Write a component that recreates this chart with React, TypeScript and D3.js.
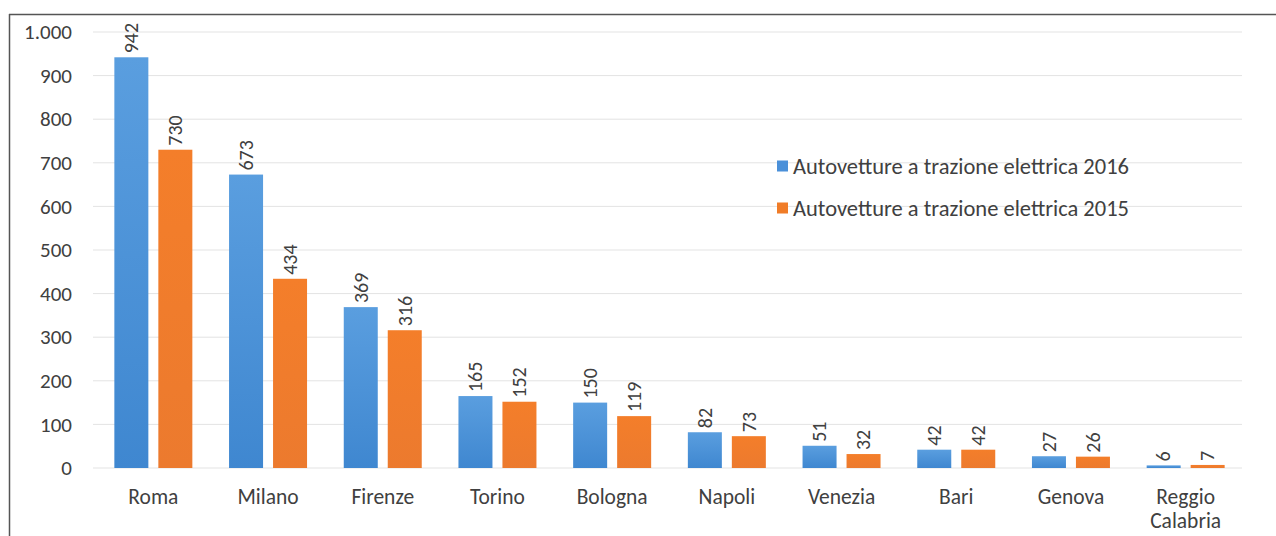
import React from "react";
import * as d3 from "d3";

const categories = ["Roma", "Milano", "Firenze", "Torino", "Bologna", "Napoli", "Venezia", "Bari", "Genova", "Reggio Calabria"];
const values2016 = [942, 673, 369, 165, 150, 82, 51, 42, 27, 6];
const values2015 = [730, 434, 316, 152, 119, 73, 32, 42, 26, 7];
const seriesNames = ["Autovetture a trazione elettrica 2016", "Autovetture a trazione elettrica 2015"];
const yTicks = [0, 100, 200, 300, 400, 500, 600, 700, 800, 900, 1000];

const W = 1276, H = 536;
const FONT = "Carlito, Lato, 'Liberation Sans', sans-serif";

export default function App() {
  const x = d3.scaleBand<string>().domain(categories).range([96, 1243]).paddingInner(0.32).paddingOuter(0.16);
  const y = d3.scaleLinear().domain([0, 1000]).range([468, 32]);
  const sub = d3.scaleBand<number>().domain([0, 1]).range([0, x.bandwidth()]).paddingInner(0.227);
  const fmt = (v: number) => (v >= 1000 ? d3.format(",")(v).replace(",", ".") : String(v));
  const colors = ["url(#gBlue)", "url(#gOrange)"];
  const series = [values2016, values2015];

  return (
    <svg width={W} height={H} style={{ position: "absolute", left: 0, top: 0, background: "#fff" }}>
      <defs>
        <linearGradient id="gBlue" x1="0" y1="0" x2="0" y2="1">
          <stop offset="0" stopColor="#5A9EDF" />
          <stop offset="1" stopColor="#3F87D0" />
        </linearGradient>
        <linearGradient id="gOrange" x1="0" y1="0" x2="0" y2="1">
          <stop offset="0" stopColor="#F47E2A" />
          <stop offset="1" stopColor="#EC7A2E" />
        </linearGradient>
      </defs>
      <rect x={0} y={0} width={W} height={H} fill="#fff" />
      <line x1={9.5} y1={14} x2={9.5} y2={H} stroke="#555" strokeWidth={1.5} />
      <line x1={9} y1={14.5} x2={W} y2={14.5} stroke="#555" strokeWidth={1.5} />
      {yTicks.map((t) => (
        <g key={t}>
          <line x1={93} x2={1242} y1={y(t)} y2={y(t)} stroke="#e3e3e3" strokeWidth={1} />
          <text x={72} y={y(t)} dy="0.34em" textAnchor="end" fontSize={21} fill="#404040" fontFamily={FONT}>{fmt(t)}</text>
        </g>
      ))}
      {categories.map((c, i) => (
        <g key={c}>
          {series.map((s, k) => {
            const bx = (x(c) as number) + (sub(k) as number);
            const bw = sub.bandwidth();
            const v = s[i];
            return (
              <g key={k}>
                <rect x={bx} y={y(v)} width={bw} height={Math.max(1.5, y(0) - y(v))} fill={colors[k]} />
                <text
                  transform={`translate(${bx + bw / 2},${y(v) - 4}) rotate(-90)`}
                  dy="0.34em"
                  textAnchor="start"
                  fontSize={20}
                  fill="#404040"
                  fontFamily={FONT}
                >{v}</text>
              </g>
            );
          })}
          {c.split(" ").map((part, j) => (
            <text key={j} x={(x(c) as number) + x.bandwidth() / 2} y={504 + j * 24} textAnchor="middle" fontSize={21.5} fill="#404040" fontFamily={FONT}>{part}</text>
          ))}
        </g>
      ))}
      {seriesNames.map((n, k) => (
        <g key={n} transform={`translate(777,${166 + k * 42})`}>
          <rect x={0} y={-5.5} width={11} height={11} fill={k === 0 ? "#4A90D9" : "#F07C28"} />
          <text x={16} y={0} dy="0.34em" fontSize={22.5} fill="#404040" fontFamily={FONT}>{n}</text>
        </g>
      ))}
    </svg>
  );
}
